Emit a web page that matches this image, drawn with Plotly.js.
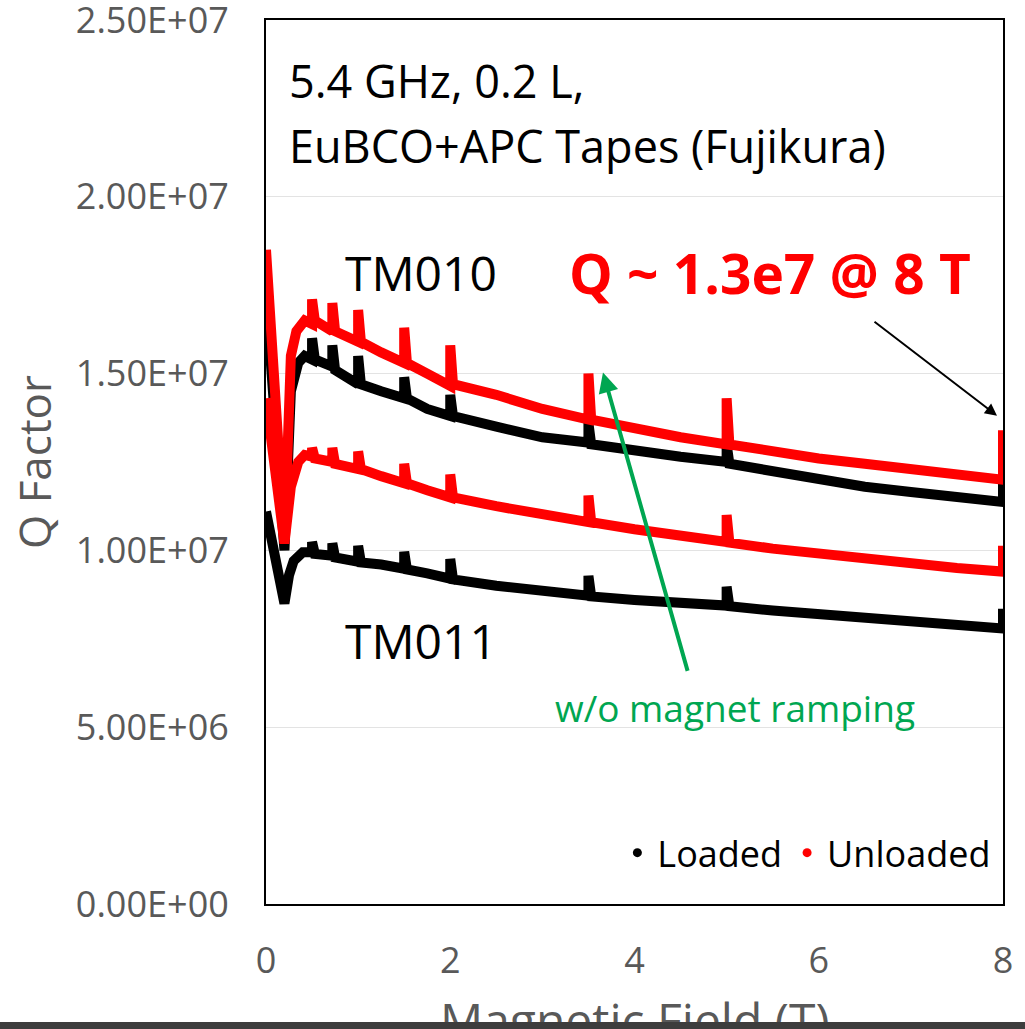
<!DOCTYPE html>
<html>
<head>
<meta charset="utf-8">
<script src="https://cdn.plot.ly/plotly-3.0.1.min.js"></script>
<style>
  html, body { margin: 0; padding: 0; background: #3d3d3d; width: 1025px; height: 1029px; overflow: hidden; }
  #chart { width: 1025px; height: 1022px; background: #ffffff; }
</style>
</head>
<body>
<div id="chart"></div>
<script>
// ---- Data (Magnetic field in T, Q factor) ----
const fieldTM010U = [0, 0.2, 0.27, 0.33, 0.42, 0.5, 0.5, 0.53, 0.72, 0.72, 0.75, 1.0, 1.0, 1.03, 1.25, 1.5, 1.5, 1.53, 1.75, 2.0, 2.0, 2.03, 2.5, 3.0, 3.5, 3.5, 3.53, 4.0, 4.5, 5.0, 5.0, 5.03, 5.5, 6.0, 6.5, 7.0, 7.5, 8.0, 8.0];
const qTM010U     = [1.85e7, 1.03e7, 1.55e7, 1.62e7, 1.65e7, 1.64e7, 1.71e7, 1.65e7, 1.62e7, 1.70e7, 1.62e7, 1.59e7, 1.68e7, 1.59e7, 1.56e7, 1.53e7, 1.63e7, 1.53e7, 1.50e7, 1.465e7, 1.58e7, 1.47e7, 1.44e7, 1.40e7, 1.37e7, 1.50e7, 1.37e7, 1.345e7, 1.32e7, 1.30e7, 1.43e7, 1.30e7, 1.28e7, 1.26e7, 1.245e7, 1.23e7, 1.215e7, 1.20e7, 1.34e7];

const fieldTM010L = [0, 0.2, 0.27, 0.35, 0.42, 0.5, 0.5, 0.53, 0.72, 0.72, 0.75, 1.0, 1.0, 1.03, 1.25, 1.5, 1.5, 1.53, 1.75, 2.0, 2.0, 2.03, 2.5, 3.0, 3.5, 3.5, 3.53, 4.0, 4.5, 5.0, 5.0, 5.03, 5.5, 6.0, 6.5, 7.0, 7.5, 8.0, 8.0];
const qTM010L     = [1.72e7, 1.0e7, 1.45e7, 1.53e7, 1.55e7, 1.54e7, 1.60e7, 1.54e7, 1.52e7, 1.58e7, 1.51e7, 1.47e7, 1.55e7, 1.47e7, 1.45e7, 1.43e7, 1.49e7, 1.43e7, 1.40e7, 1.38e7, 1.44e7, 1.38e7, 1.35e7, 1.32e7, 1.305e7, 1.36e7, 1.30e7, 1.28e7, 1.265e7, 1.25e7, 1.30e7, 1.245e7, 1.225e7, 1.20e7, 1.18e7, 1.165e7, 1.15e7, 1.137e7, 1.21e7];

const fieldTM011U = [0, 0.2, 0.27, 0.35, 0.42, 0.5, 0.5, 0.53, 0.72, 0.72, 0.75, 1.0, 1.0, 1.03, 1.25, 1.5, 1.5, 1.53, 1.75, 2.0, 2.0, 2.03, 2.5, 3.0, 3.5, 3.5, 3.53, 4.0, 4.5, 5.0, 5.0, 5.03, 5.5, 6.0, 6.5, 7.0, 7.5, 8.0, 8.0];
const qTM011U     = [1.43e7, 1.02e7, 1.18e7, 1.25e7, 1.27e7, 1.265e7, 1.29e7, 1.26e7, 1.25e7, 1.29e7, 1.245e7, 1.23e7, 1.28e7, 1.23e7, 1.21e7, 1.19e7, 1.245e7, 1.19e7, 1.17e7, 1.15e7, 1.215e7, 1.15e7, 1.125e7, 1.10e7, 1.08e7, 1.155e7, 1.08e7, 1.06e7, 1.04e7, 1.024e7, 1.10e7, 1.022e7, 1.005e7, 9.9e6, 9.75e6, 9.6e6, 9.5e6, 9.4e6, 1.013e7];

const fieldTM011L = [0, 0.1, 0.2, 0.25, 0.3, 0.4, 0.5, 0.5, 0.53, 0.72, 0.72, 0.75, 1.0, 1.0, 1.03, 1.25, 1.5, 1.5, 1.53, 1.75, 2.0, 2.0, 2.03, 2.5, 3.0, 3.5, 3.5, 3.53, 4.0, 4.5, 5.0, 5.0, 5.03, 5.5, 6.0, 6.5, 7.0, 7.5, 8.0, 8.0];
const qTM011L     = [1.11e7, 9.8e6, 8.5e6, 9.3e6, 9.7e6, 9.95e6, 9.95e6, 1.024e7, 9.9e6, 9.85e6, 1.02e7, 9.8e6, 9.68e6, 1.013e7, 9.66e6, 9.6e6, 9.48e6, 9.96e6, 9.46e6, 9.35e6, 9.2e6, 9.76e6, 9.18e6, 9.0e6, 8.85e6, 8.72e6, 9.28e6, 8.7e6, 8.6e6, 8.52e6, 8.44e6, 8.97e6, 8.42e6, 8.3e6, 8.2e6, 8.1e6, 8.0e6, 7.9e6, 7.79e6, 8.35e6];

const yTickVals  = [0, 5e6, 1e7, 1.5e7, 2e7, 2.5e7];
const yTickText  = ['0.00E+00', '5.00E+06', '1.00E+07', '1.50E+07', '2.00E+07', '2.50E+07'];
const xTickVals  = [0, 2, 4, 6, 8];
const xTickText  = ['0', '2', '4', '6', '8'];
const seriesNames = ['Loaded', 'Unloaded'];

// ---- Styling ----
const BLACK = '#000000';
const RED = '#ff0000';
const GREEN = '#00a651';
const GRAY = '#595959';
const FONT = 'Open Sans, sans-serif';
const LW = 10;

function curve(x, y, color, name) {
  return {
    type: 'scatter', mode: 'lines', x: x, y: y, name: name,
    line: { color: color, width: LW, shape: 'linear' },
    showlegend: false, hoverinfo: 'x+y'
  };
}

const traces = [
  curve(fieldTM010L, qTM010L, BLACK, 'TM010 ' + seriesNames[0]),
  curve(fieldTM011L, qTM011L, BLACK, 'TM011 ' + seriesNames[0]),
  curve(fieldTM010U, qTM010U, RED, 'TM010 ' + seriesNames[1]),
  curve(fieldTM011U, qTM011U, RED, 'TM011 ' + seriesNames[1]),
  { type: 'scatter', mode: 'markers', x: [null], y: [null], name: seriesNames[0],
    marker: { color: BLACK, size: 9 }, showlegend: true },
  { type: 'scatter', mode: 'markers', x: [null], y: [null], name: seriesNames[1],
    marker: { color: RED, size: 9 }, showlegend: true }
];

const textFont = { family: FONT, size: 45, color: BLACK };
const tmFont = { family: FONT, size: 48, color: BLACK };

const layout = {
  width: 1025, height: 1022,
  margin: { l: 266, r: 22, t: 20, b: 118 },
  paper_bgcolor: '#ffffff', plot_bgcolor: '#ffffff',
  font: { family: FONT, color: GRAY },
  showlegend: true,
  legend: {
    orientation: 'h', x: 0.991, xanchor: 'right', y: 0.058, yanchor: 'middle',
    font: { family: FONT, size: 36, color: BLACK },
    bgcolor: 'rgba(0,0,0,0)', itemwidth: 30, tracegroupgap: 0
  },
  xaxis: {
    range: [0, 8], tickvals: xTickVals, ticktext: xTickText,
    showgrid: false, zeroline: false,
    showline: true, mirror: true, linecolor: BLACK, linewidth: 2,
    ticks: 'outside', ticklen: 24, tickcolor: 'rgba(0,0,0,0)',
    tickfont: { family: FONT, size: 36, color: GRAY },
    fixedrange: true
  },
  yaxis: {
    range: [0, 2.50001e7], tickvals: yTickVals, ticktext: yTickText,
    ticklabeloverflow: 'allow',
    showgrid: true, gridcolor: '#e3e3e3', gridwidth: 1, zeroline: false,
    showline: true, mirror: true, linecolor: BLACK, linewidth: 2,
    ticks: 'outside', ticklen: 28, tickcolor: 'rgba(0,0,0,0)',
    tickfont: { family: FONT, size: 36, color: GRAY },
    title: { text: 'Q Factor', font: { family: FONT, size: 44, color: GRAY }, standoff: 10 },
    fixedrange: true
  },
  annotations: [
    { xref: 'paper', yref: 'paper', x: 0.5, y: -0.0916, xanchor: 'center', yanchor: 'top',
      text: 'Magnetic Field (T)', showarrow: false,
      font: { family: FONT, size: 48, color: GRAY } },
    { xref: 'x', yref: 'y', x: 0.228, y: 2.328e7, xanchor: 'left', yanchor: 'middle',
      text: '5.4 GHz, 0.2 L,', showarrow: false, font: textFont },
    { xref: 'x', yref: 'y', x: 0.228, y: 2.144e7, xanchor: 'left', yanchor: 'middle',
      text: 'EuBCO+APC Tapes (Fujikura)', showarrow: false, font: textFont },
    { xref: 'x', yref: 'y', x: 0.836, y: 1.785e7, xanchor: 'left', yanchor: 'middle',
      text: 'TM010', showarrow: false, font: tmFont },
    { xref: 'x', yref: 'y', x: 0.836, y: 7.46e6, xanchor: 'left', yanchor: 'middle',
      text: 'TM011', showarrow: false, font: tmFont },
    { xref: 'x', yref: 'y', x: 3.267, y: 1.785e7, xanchor: 'left', yanchor: 'middle',
      text: '<b>Q ~ 1.3e7 @ 8 T</b>', showarrow: false,
      font: { family: FONT, size: 55, color: RED } },
    { xref: 'x', yref: 'y', x: 3.115, y: 5.56e6, xanchor: 'left', yanchor: 'middle',
      text: 'w/o magnet ramping', showarrow: false,
      font: { family: FONT, size: 37, color: GREEN } },
    // black arrow to the 8 T point
    { xref: 'x', yref: 'y', axref: 'x', ayref: 'y',
      x: 7.935, y: 1.381e7, ax: 6.589, ay: 1.65e7, text: '',
      showarrow: true, arrowhead: 2, arrowsize: 1.2, arrowwidth: 2, arrowcolor: BLACK },
    // green arrow to the 3.5 T spike
    { xref: 'x', yref: 'y', axref: 'x', ayref: 'y',
      x: 3.658, y: 1.503e7, ax: 4.581, ay: 6.55e6, text: '',
      showarrow: true, arrowhead: 2, arrowsize: 1, arrowwidth: 4, arrowcolor: GREEN }
  ]
};

Plotly.newPlot('chart', traces, layout, { staticPlot: true, displayModeBar: false });
</script>
</body>
</html>
